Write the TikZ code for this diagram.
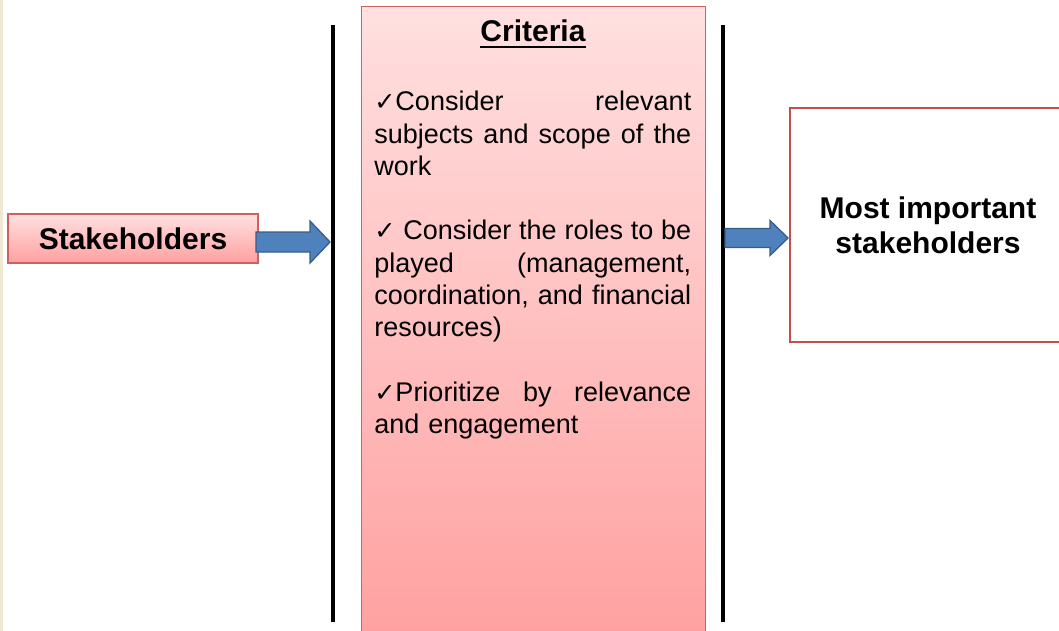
\documentclass[tikz,border=0pt]{standalone}
\usepackage{fontspec}
\setmainfont{Liberation Sans}
\newfontfamily\symf{DejaVu Sans}
\usetikzlibrary{calc}
\definecolor{boxborder}{HTML}{D0605E}
\definecolor{pinktop}{HTML}{FFE0E0}
\definecolor{pinkbot}{HTML}{FFA0A0}
\definecolor{arrowfill}{HTML}{4F81BD}
\definecolor{arrowline}{HTML}{385D8A}
\definecolor{redline}{HTML}{C0504D}
\definecolor{cream}{HTML}{EFE8D2}
\newcommand\chk{{\symf\fontsize{19pt}{24.2pt}\selectfont ✓}}
\newcommand\js{\hspace{0pt plus 1fill}}
\newcommand\jline[1]{\makebox[\linewidth][l]{#1}}
\newcommand\blockarr[5]{\draw[blockarrow] let \p1=(#1), \p2=(#2) in
  (\x1,\y2+#3) -- (\x2-#5,\y2+#3) -- (\x2-#5,\y2+#4) -- (\x2,\y2) --
  (\x2-#5,\y2-#4) -- (\x2-#5,\y2-#3) -- (\x1,\y2-#3) -- cycle;}
\tikzset{
  pinkbox/.style={draw=boxborder, line width=1pt, top color=pinktop, bottom color=pinkbot, inner sep=0pt},
  blockarrow/.style={draw=arrowline, line width=1pt, fill=arrowfill, line join=miter},
  divider/.style={line width=3pt, black},
  bigbold/.style={font=\fontsize{22.5pt}{26.25pt}\selectfont\bfseries},
  bodytext/.style={font=\fontsize{20.25pt}{24.2pt}\selectfont}
}
\begin{document}
\begin{tikzpicture}[x=0.75pt,y=-0.75pt]
\clip (0,0) rectangle (1059,631);
\fill[white] (0,0) rectangle (1059,631);
\fill[cream] (0,0) rectangle (3,631);

% left box
\node[pinkbox, minimum width=187.5pt, minimum height=36.75pt, bigbold] (stake) at (133,238.5) {Stakeholders};

% criteria box
\node[pinkbox, minimum width=258pt, minimum height=476pt, anchor=north west] (crit) at (361,6) {};
\node[bigbold, anchor=base, inner sep=0pt] (crittitle) at (533,42) {Criteria};
\draw[line width=2.2pt] ($(crittitle.base west)+(0,5)$) -- ($(crittitle.base east)+(0,5)$);

\node[bodytext, anchor=north west, inner sep=0pt, text width=237.75pt, align=left] (crittext) at (374,91) {%
\jline{\chk Consider\js relevant}\\
\jline{subjects\js and\js scope\js of\js the}\\
work\\[24.2pt]
\jline{\chk\js Consider\js the\js roles\js to\js be}\\
\jline{played\js (management,}\\
\jline{coordination,\js and\js financial}\\
resources)\\[24.2pt]
\jline{\chk Prioritize\js by\js relevance}\\
and engagement};

% dividers
\coordinate (v1t) at (333,25);
\coordinate (v1b) at (333,622);
\coordinate (v2t) at (723,25);
\coordinate (v2b) at (723,622);
\draw[divider] (v1t) -- (v1b);
\draw[divider] (v2t) -- (v2b);

% right box
\node[draw=redline, line width=2.2pt, fill=white, minimum width=207pt, minimum height=175.5pt, align=center, bigbold] (most) at (928,225) {Most important\\stakeholders};

% arrows
\coordinate (a1s) at (256,242);
\coordinate (a1t) at (330,242);
\blockarr{a1s}{a1t}{7.5pt}{15.75pt}{15pt}
\coordinate (a2s) at (725,238);
\coordinate (a2t) at (788,238);
\blockarr{a2s}{a2t}{7.1pt}{13.1pt}{13.5pt}
\end{tikzpicture}
\end{document}
